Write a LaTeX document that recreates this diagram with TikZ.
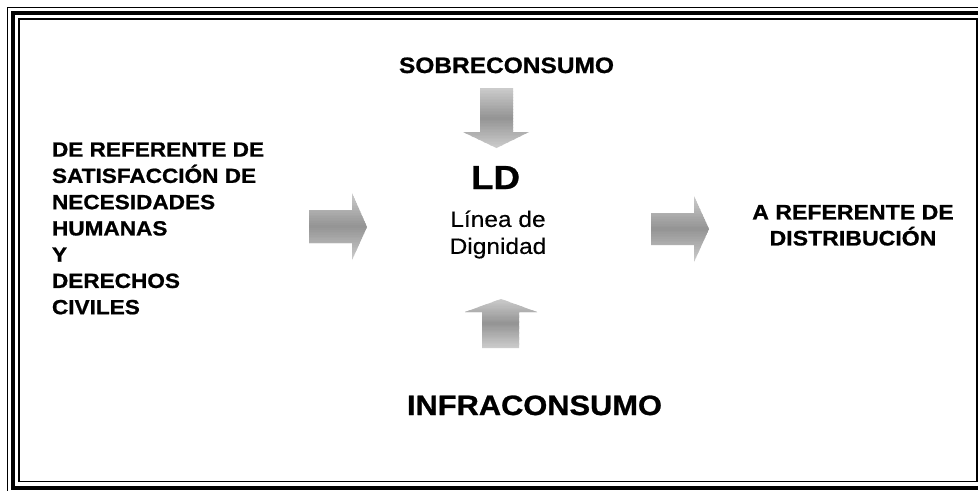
\documentclass[tikz,border=0pt]{standalone}
\usepackage{fontspec}
\setmainfont{Liberation Sans}[FakeStretch=1.1, BoldFeatures={FakeBold=0.9}, UprightFeatures={FakeBold=0.3}]
\newcommand\gradbands[2]{%
  \foreach \k in {0,...,39} {%
    \pgfmathsetmacro\ya{#1+(#2-#1)*\k/40}%
    \pgfmathsetmacro\yb{#1+(#2-#1)*(\k+1)/40+0.6}%
    \pgfmathsetmacro\pp{20+22*(1-abs(2*(\k+0.5)/40-1))}%
    \fill[black!\pp] (0,\ya) rectangle (978,\yb);
  }}
\begin{document}
\begin{tikzpicture}[x=0.75pt,y=-0.75pt,
  lbl/.style={inner sep=0pt, outer sep=0pt, text=black}]
\useasboundingbox (0,0) rectangle (978,490);
\fill[white] (0,0) rectangle (978,490);
% frame
\draw[line width=1.1pt] (7.5,7.5) rectangle (988.5,493.5);
\draw[line width=3pt] (13.2,13.2) rectangle (983,487.5);
\draw[line width=1.4pt] (19,19) rectangle (976.7,481.5);
% texts
\node[lbl, anchor=north west, align=left, font=\fontsize{15.4}{19.7}\selectfont\bfseries] (left) at (52,142.5)
  {DE REFERENTE DE\\SATISFACCIÓN DE\\NECESIDADES\\HUMANAS\\Y\\DERECHOS\\CIVILES};
\node[lbl, anchor=base, font=\fontsize{16.7}{20}\selectfont\bfseries] (sobre) at (506.5,73) {SOBRECONSUMO};
\node[lbl, anchor=base, font=\fontsize{25}{30}\selectfont\bfseries] (ld) at (495.5,189) {LD};
\node[lbl, anchor=north, align=center, font=\fontsize{16.7}{20.25}\selectfont] (linea) at (498,210.5) {Línea de\\Dignidad};
\node[lbl, anchor=north, align=center, font=\fontsize{15.75}{19.5}\selectfont\bfseries] (right) at (853,205) {A REFERENTE DE\\DISTRIBUCIÓN};
\node[lbl, anchor=base west, font=\fontsize{21}{25}\selectfont\bfseries] (infra) at (407,415) {INFRACONSUMO};
% block arrows
\begin{scope}
  \clip (309,210) -- (352,210) -- (352,193) -- (367,227) -- (352,260) -- (352,243) -- (309,243) -- cycle;
  \gradbands{193}{260}
\end{scope}
\begin{scope}
  \clip (651,213) -- (694,213) -- (694,196) -- (709,229) -- (694,262) -- (694,245) -- (651,245) -- cycle;
  \gradbands{196}{262}
\end{scope}
\begin{scope}
  \clip (480,88) -- (513,88) -- (513,132) -- (529,132) -- (496.5,148) -- (463,132) -- (480,132) -- cycle;
  \gradbands{88}{148}
\end{scope}
\begin{scope}
  \clip (482,348) -- (519,348) -- (519,312) -- (537,312) -- (501,299) -- (465,312) -- (482,312) -- cycle;
  \gradbands{299}{348}
\end{scope}
\end{tikzpicture}
\end{document}
